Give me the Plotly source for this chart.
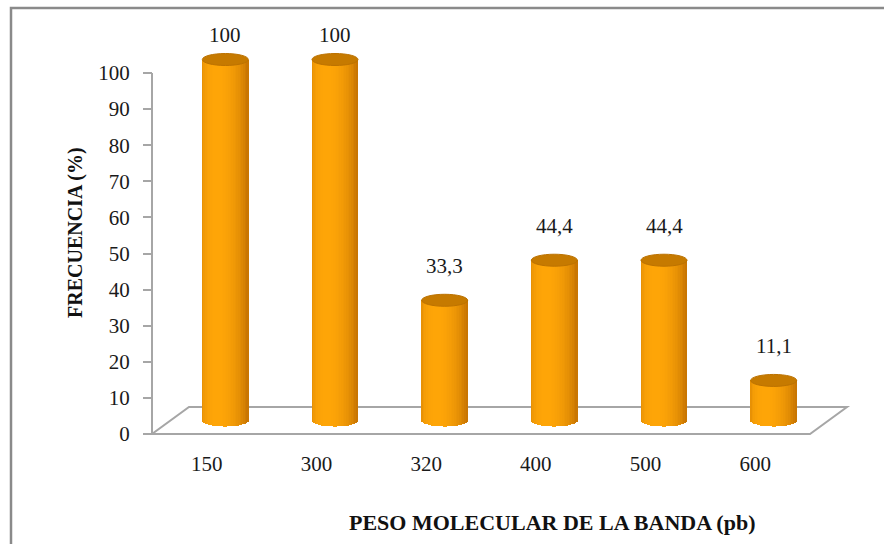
import numpy as np
import plotly.graph_objects as go

# ---- data -------------------------------------------------------------
categories = ["150", "300", "320", "400", "500", "600"]
frequency = [100, 100, 33.3, 44.4, 44.4, 11.1]
y_ticks = [0, 10, 20, 30, 40, 50, 60, 70, 80, 90, 100]

x_title = "PESO MOLECULAR DE LA BANDA (pb)"
y_title = "FRECUENCIA (%)"

# ---- page / plot geometry (pixels) ------------------------------------
W, H = 884, 544
ML, MR, MT, MB = 141, 30, 28, 106
plot_w = W - ML - MR
plot_h = H - MT - MB

front_left_px = 152          # front-left corner of the floor (x = -0.5)
front_right_px = 810         # front-right corner of the floor
zero_px = 434                # value 0 on the front edge
px_per_x = (front_right_px - front_left_px) / len(categories)
px_per_y = 3.61

x_lo = -0.5 - (front_left_px - ML) / px_per_x
x_hi = x_lo + plot_w / px_per_x
y_lo = -((H - MB) - zero_px) / px_per_y
y_hi = y_lo + plot_h / px_per_y

# pseudo-3D depth of the floor
depth_x = 37.0 / px_per_x
depth_y = 27.0 / px_per_y
shift_x = depth_x / 2        # bars stand in the middle of the floor depth
shift_y = depth_y / 2

radius_x = 23.0 / px_per_x   # cylinder radius (horizontal)
radius_y = 6.0 / px_per_y    # half-height of the elliptical caps

FONT = "Liberation Serif, Times New Roman, serif"


def px_to_paper_x(px):
    return (px - ML) / plot_w


def px_to_paper_y(py):
    return ((H - MB) - py) / plot_h


def label_text(v):
    return f"{v:g}" if float(v).is_integer() else f"{v:.1f}".replace(".", ",")


fig = go.Figure()

# ---- cylinder sides: vertical strips with a lit gradient ---------------
n_strips = 28
dark = np.array([178, 98, 0])
bright = np.array([255, 166, 8])
light_angle = -0.35
xs = np.arange(len(categories), dtype=float)
vals = np.array(frequency, dtype=float)
for k in range(n_strips):
    u = -1 + (2 * k + 1) / n_strips
    theta = np.arcsin(u)
    inten = max(0.0, np.cos(theta - light_angle))
    inten = 0.3 + 0.7 * inten
    c = dark + (bright - dark) * inten
    color = f"rgb({int(c[0])},{int(c[1])},{int(c[2])})"
    sag = radius_y * np.sqrt(max(0.0, 1 - u * u))
    fig.add_trace(go.Bar(
        x=xs + shift_x + u * radius_x,
        y=vals + sag,
        base=shift_y - sag,
        width=2 * radius_x / n_strips * 1.6,
        marker=dict(color=color, line=dict(width=0)),
        hoverinfo="skip",
        showlegend=False,
    ))

shapes = []

# ---- floor -------------------------------------------------------------
fx0, fx1 = -0.5, len(categories) - 0.5
floor_path = (f"M {fx0},0 L {fx1},0 L {fx1 + depth_x},{depth_y} "
              f"L {fx0 + depth_x},{depth_y} Z")
shapes.append(dict(type="path", path=floor_path, xref="x", yref="y",
                   line=dict(color="#a6a6a6", width=2), layer="below"))

# ---- value axis line ---------------------------------------------------
shapes.append(dict(type="line", xref="x", yref="y", x0=fx0, x1=fx0,
                   y0=y_ticks[0], y1=y_ticks[-1],
                   line=dict(color="#a6a6a6", width=2), layer="below"))

# ---- cylinder tops -----------------------------------------------------
for x, v in zip(xs, vals):
    top = v + shift_y
    shapes.append(dict(type="circle", xref="x", yref="y",
                       x0=x + shift_x - radius_x, x1=x + shift_x + radius_x,
                       y0=top - radius_y, y1=top + radius_y,
                       fillcolor="rgb(198,122,0)",
                       line=dict(color="rgb(188,114,0)", width=1)))

# ---- outer frame -------------------------------------------------------
shapes.append(dict(type="rect", xref="paper", yref="paper",
                   x0=px_to_paper_x(11), x1=px_to_paper_x(W + 10),
                   y0=px_to_paper_y(H + 10), y1=px_to_paper_y(8),
                   line=dict(color="#8a8a8a", width=2.5)))

# ---- value labels (kept inside the frame) ------------------------------
label_gap = 34.0 / px_per_y
label_ceiling = (zero_px - 35) / px_per_y
annotations = []
for x, v in zip(xs, vals):
    annotations.append(dict(
        x=x + shift_x, y=min(v + shift_y + label_gap, label_ceiling),
        xref="x", yref="y", text=label_text(v), showarrow=False,
        font=dict(family=FONT, size=21, color="#1a1a1a"),
        xanchor="center", yanchor="middle"))

annotations.append(dict(
    x=px_to_paper_x(552), y=px_to_paper_y(522), xref="paper", yref="paper",
    text=f"<b>{x_title}</b>", showarrow=False,
    font=dict(family=FONT, size=22, color="#111"),
    xanchor="center", yanchor="middle"))
annotations.append(dict(
    x=px_to_paper_x(75), y=px_to_paper_y(233), xref="paper", yref="paper",
    text=f"<b>{y_title}</b>", showarrow=False, textangle=-90,
    font=dict(family=FONT, size=20, color="#111"),
    xanchor="center", yanchor="middle"))

fig.update_layout(
    width=W, height=H,
    margin=dict(l=ML, r=MR, t=MT, b=MB, pad=0),
    paper_bgcolor="white", plot_bgcolor="white",
    barmode="overlay", bargap=0,
    font=dict(family=FONT, size=21, color="#1a1a1a"),
    shapes=shapes, annotations=annotations,
    xaxis=dict(range=[x_lo, x_hi], tickvals=list(range(len(categories))),
               ticktext=categories, showgrid=False, zeroline=False,
               showline=False, ticks="", ticklabelstandoff=11,
               fixedrange=True),
    yaxis=dict(range=[y_lo, y_hi], tickvals=y_ticks,
               ticktext=[str(t) for t in y_ticks],
               anchor="free", position=px_to_paper_x(front_left_px),
               showgrid=False, zeroline=False, showline=False,
               ticks="outside", ticklen=9, tickwidth=2, tickcolor="#a6a6a6",
               ticklabelstandoff=9, fixedrange=True),
)

fig.write_html("out.html")
